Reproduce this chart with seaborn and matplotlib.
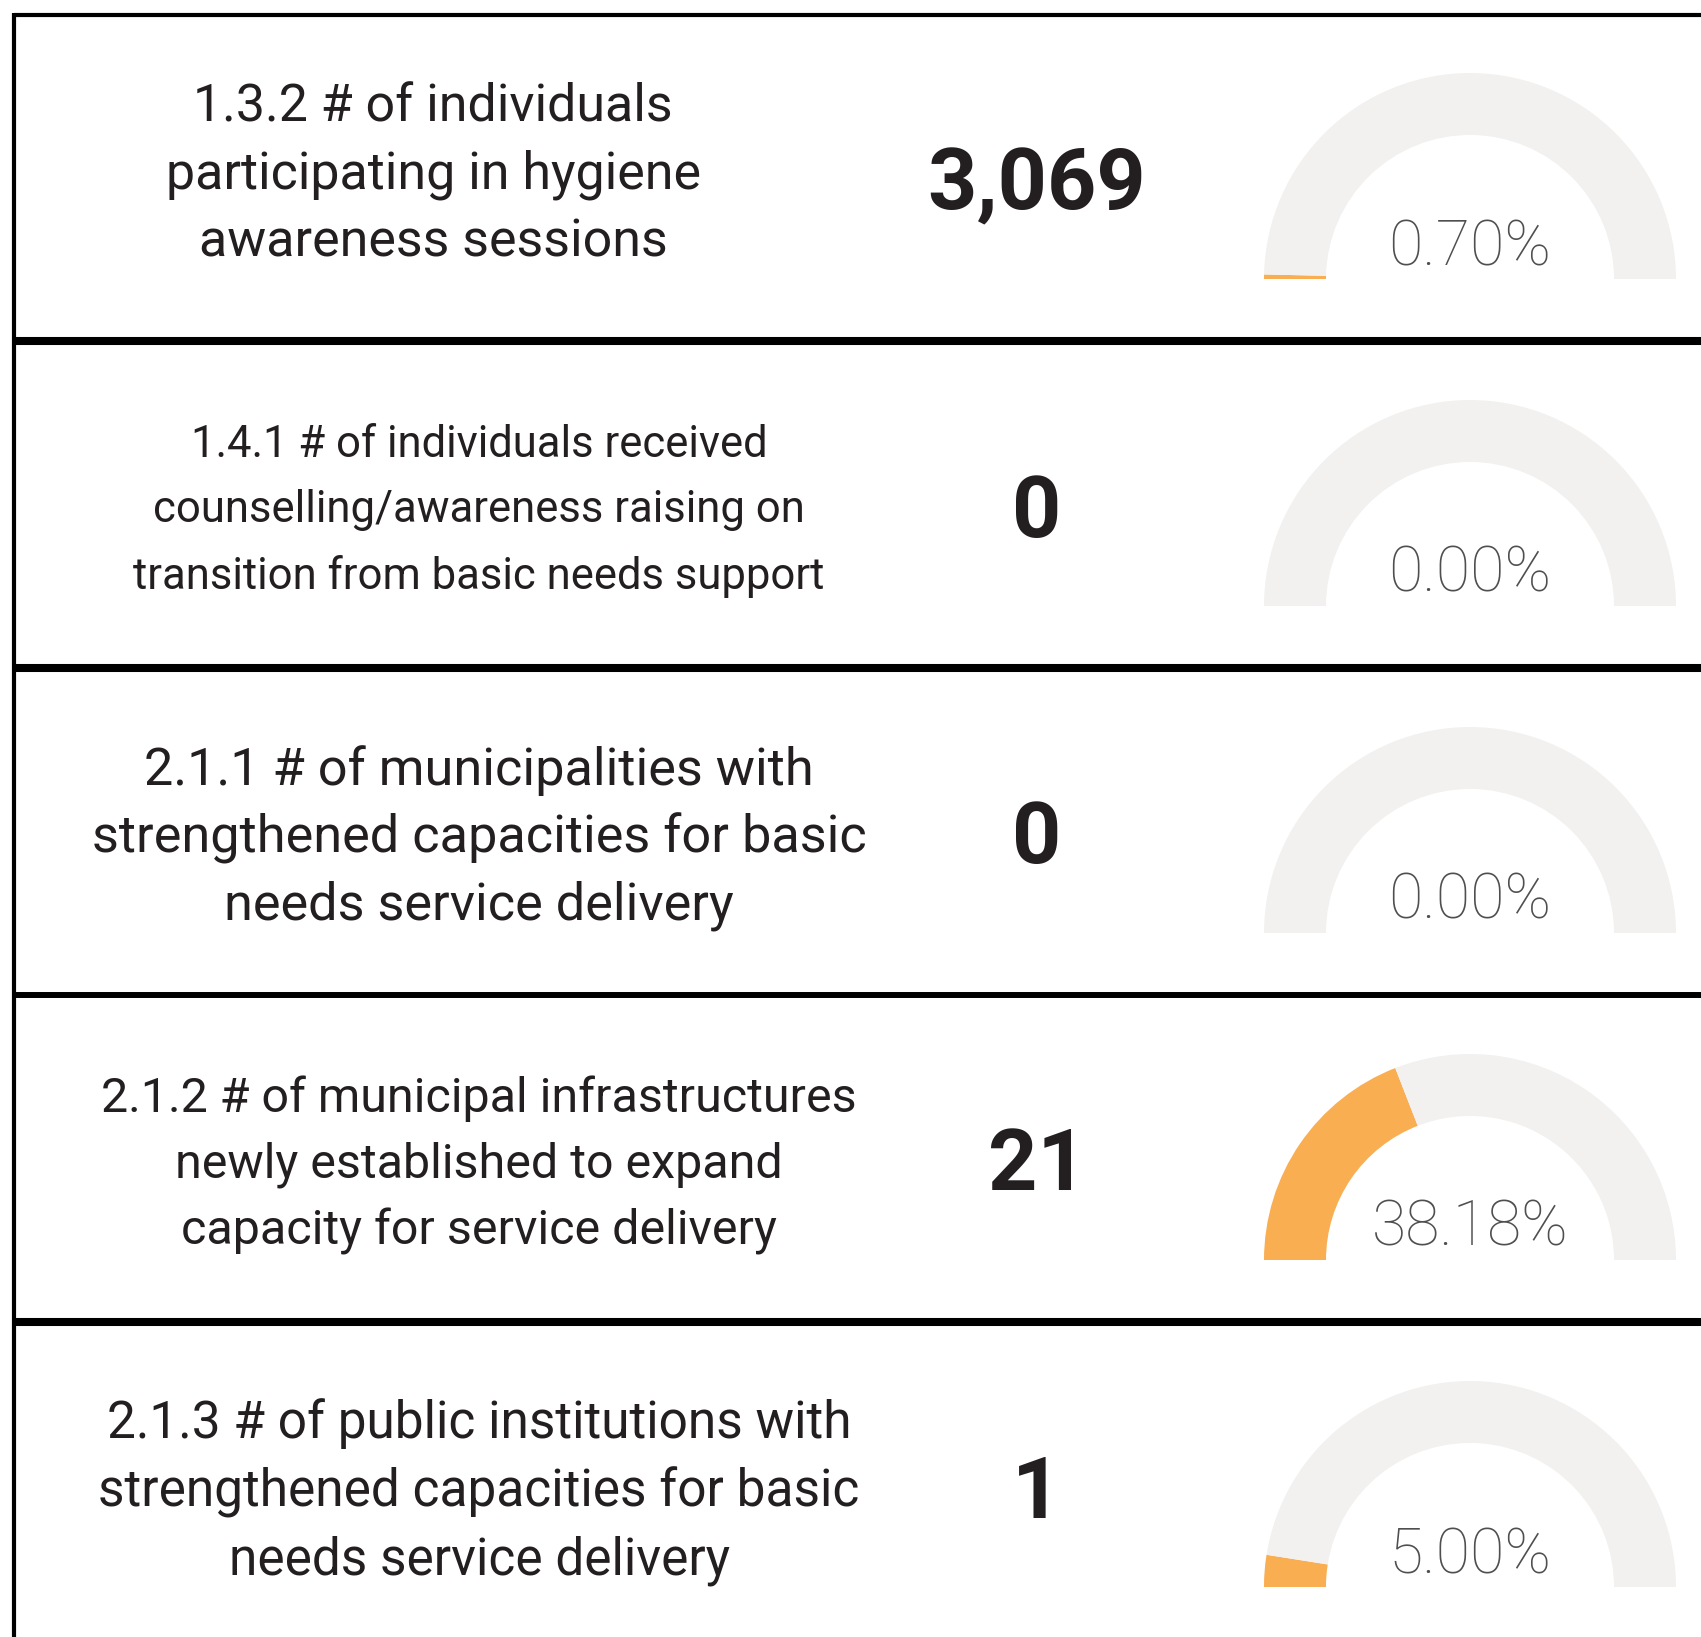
import matplotlib
matplotlib.use("Agg")
import matplotlib.pyplot as plt
import seaborn as sns

# indicator table data
labels = [
    "1.3.2 # of individuals\nparticipating in hygiene\nawareness sessions",
    "1.4.1 # of individuals received\ncounselling/awareness raising on\ntransition from basic needs support",
    "2.1.1 # of municipalities with\nstrengthened capacities for basic\nneeds service delivery",
    "2.1.2 # of municipal infrastructures\nnewly established to expand\ncapacity for service delivery",
    "2.1.3 # of public institutions with\nstrengthened capacities for basic\nneeds service delivery",
]
values = ["3,069", "0", "0", "21", "1"]
percents = [0.70, 0.00, 0.00, 38.18, 5.00]

sns.set_theme(style="white")
plt.rcParams["font.family"] = ["Roboto", "DejaVu Sans"]

W, H = 1701, 1637
DPI = 100
fig = plt.figure(figsize=(W / DPI, H / DPI), dpi=DPI)
ax = fig.add_axes([0, 0, 1, 1])
ax.set_xlim(0, W)
ax.set_ylim(H, 0)
ax.axis("off")

dark = "#231F20"
orange = "#F9AE52"
grey = "#F2F1F0"

row_h = 327
top = 15
label_x = [433, 479, 479, 479, 479]
label_dy = [160, 169, 169, 169, 169]
label_size = [37.4, 31.4, 37.6, 34.8, 37.0]

# frame
ax.plot([14, W], [top, top], color="black", lw=3, solid_capstyle="butt")
ax.plot([14, 14], [top - 2, H], color="black", lw=3, solid_capstyle="butt")
sep_w = [5.8, 5.8, 4.3, 5.8]
for i in range(1, 5):
    y = top + i * row_h - 1
    ax.plot([14, W], [y, y], color="black", lw=sep_w[i - 1], solid_capstyle="butt")

r_out, r_in = 206, 144
cx = 1470
for i, (lab, val, pct) in enumerate(zip(labels, values, percents)):
    rt = top + i * row_h
    ls = 68 / (label_size[i] * 1.27)
    ax.text(label_x[i], rt + label_dy[i], lab, ha="center", va="center",
            fontsize=label_size[i], color=dark, linespacing=ls)
    ax.text(1037, rt + 171, val, ha="center", va="center", fontsize=62,
            fontweight="bold", color=dark)

    base = rt + 264
    gax = fig.add_axes([(cx - r_out) / W, (H - base - r_out) / H, 2 * r_out / W, 2 * r_out / H])
    gax.pie([pct, 100 - pct, 100], colors=[orange, grey, (0, 0, 0, 0)], startangle=180,
            counterclock=False, radius=1,
            wedgeprops=dict(width=(r_out - r_in) / r_out, linewidth=0))
    gax.set_xlim(-1, 1)
    gax.set_ylim(-1, 1)
    gax.axis("off")
    gax.text(0, 14 / r_out, f"{pct:.2f}%", ha="center", va="baseline", fontsize=45,
             color="#4F4F4F", family="Roboto", fontweight="light")

fig.savefig("out.png", dpi=DPI)
